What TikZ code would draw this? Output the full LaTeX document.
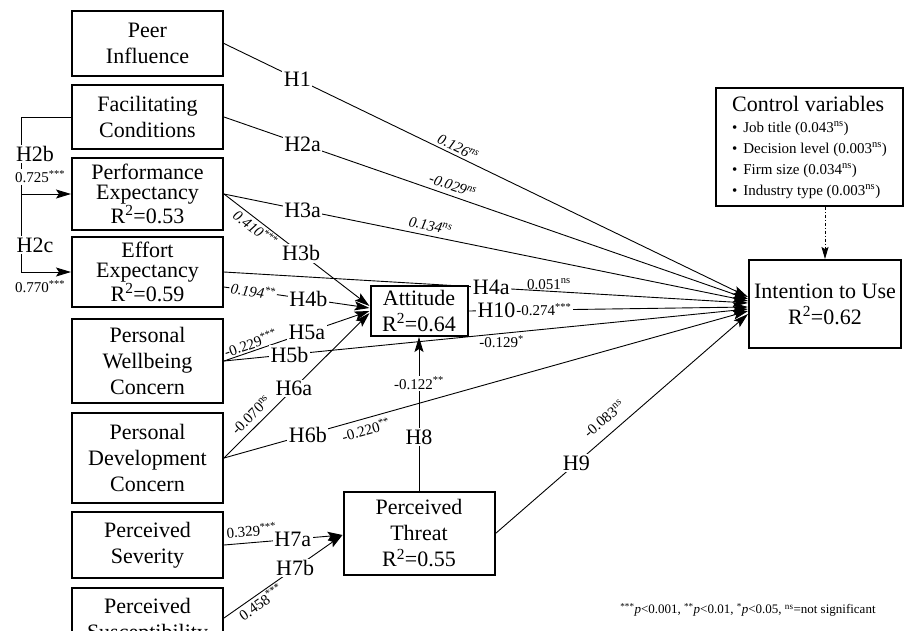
\documentclass[tikz,border=0pt]{standalone}
\usepackage{fontspec}
\setmainfont{Liberation Serif}
\usetikzlibrary{arrows.meta}
\def\boxfont{\fontsize{22}{26}\selectfont}
\def\tightfont{\fontsize{22}{20}\selectfont}
\def\coeffont{\fontsize{15}{17}\selectfont}
\def\ctrlfont{\fontsize{15}{21}\selectfont}
\def\rsq#1{R\textsuperscript{2}=#1}
\tikzset{
  var/.style={draw, line width=2pt, align=center, inner sep=0pt, minimum width=151pt, font=\boxfont},
  hyp/.style={fill=white, inner sep=1.5pt, font=\boxfont},
  coef/.style={inner sep=1.5pt, font=\coeffont},
  link/.style={line width=0.9pt},
  arr/.style={link, -{Stealth[length=15pt,width=9pt,inset=3pt]}},
}
\begin{document}
\begin{tikzpicture}[x=1pt,y=-1pt]
\useasboundingbox (0,0) rectangle (912,630);
\clip (0,0) rectangle (912,630);
\node[var, minimum height=65pt] (peer) at (147.5,43.5) {Peer\\Influence};
\node[var, minimum height=64pt] (fac) at (147.5,117) {Facilitating\\Conditions};
\node[var, minimum height=72pt, font=\tightfont] (perf) at (147.5,194) {Performance\\Expectancy\\\rsq{0.53}};
\node[var, minimum height=70pt, font=\tightfont] (eff) at (147.5,272) {Effort\\Expectancy\\\rsq{0.59}};
\node[var, minimum height=84pt] (wel) at (147.5,361) {Personal\\Wellbeing\\Concern};
\node[var, minimum height=90pt] (dev) at (147.5,458) {Personal\\Development\\Concern};
\node[var, minimum height=66pt] (sev) at (147.5,545) {Perceived\\Severity};
\node[var, minimum height=66pt] (sus) at (147.5,621) {Perceived\\Susceptibility};
\node[var, minimum width=97pt, minimum height=50pt] (att) at (419,311) {Attitude\\\rsq{0.64}};
\node[var, minimum height=83pt] (thr) at (419,533.5) {Perceived\\Threat\\\rsq{0.55}};
\node[var, minimum width=152pt, minimum height=88pt] (int) at (825,304) {Intention to Use\\\rsq{0.62}};
\node[var, minimum width=187pt, minimum height=118pt, align=left, font=\ctrlfont] (ctrl) at (809.5,147)
  {{\boxfont Control variables}\\
   \textbullet\hspace{6pt}Job title (0.043\textsuperscript{ns})\\
   \textbullet\hspace{6pt}Decision level (0.003\textsuperscript{ns})\\
   \textbullet\hspace{6pt}Firm size (0.034\textsuperscript{ns})\\
   \textbullet\hspace{6pt}Industry type (0.003\textsuperscript{ns})};

\draw[arr] (perf.east) -- node[hyp,pos=.53]{H3b} node[coef,pos=.25,below,sloped]{\textit{0.410\textsuperscript{***}}} ([yshift=5pt]att.west);
\draw[arr] ([yshift=-15pt]eff.east) -- node[coef,fill=white,pos=.2,sloped]{\textit{0.194\textsuperscript{**}}} node[hyp,pos=.58]{H4b} ([yshift=3pt]att.west);
\draw[arr] (wel.east) -- node[hyp,pos=.57]{H5a} node[coef,pos=.2,above,sloped]{-0.229\textsuperscript{***}} (att.west);
\draw[arr] (dev.east) -- node[hyp,pos=.48]{H6a} node[coef,pos=.24,above=4pt,sloped]{-0.070\textsuperscript{ns}} ([yshift=-2pt]att.west);

\draw[arr] (peer.east) -- node[hyp,pos=.14]{H1} node[coef,pos=.44,above=1pt,sloped]{\textit{0.126\textsuperscript{ns}}} ([yshift=7pt]int.west);
\draw[arr] (fac.east) -- node[hyp,pos=.15]{H2a} node[coef,pos=.43,above=3pt,sloped]{\textit{-0.029\textsuperscript{ns}}} ([yshift=5pt]int.west);
\draw[arr] (perf.east) -- node[hyp,pos=.15]{H3a} node[coef,pos=.39,above=3pt,sloped]{\textit{0.134\textsuperscript{ns}}} ([yshift=3pt]int.west);
\draw[arr] (eff.east) -- node[hyp,pos=.51]{H4a} node[coef,pos=.62,above]{0.051\textsuperscript{ns}} ([yshift=1pt]int.west);
\draw[arr] (att.east) -- node[hyp,pos=.1]{H10} node[coef,fill=white,pos=.27]{-0.274\textsuperscript{***}} ([yshift=-3pt]int.west);
\draw[arr] (wel.east) -- node[hyp,pos=.125]{H5b} node[coef,pos=.53,below]{-0.129\textsuperscript{*}} ([yshift=-5pt]int.west);
\draw[arr] (dev.east) -- node[hyp,pos=.16]{H6b} node[coef,pos=.265,below=3pt,sloped]{-0.220\textsuperscript{**}} ([yshift=-7pt]int.west);
\draw[arr] (thr.east) -- node[hyp,pos=.32]{H9} node[coef,pos=.47,above=8pt,sloped]{-0.083\textsuperscript{ns}} ([yshift=-10pt]int.west);

\draw[arr] (sev.east) -- node[hyp,pos=.58]{H7a} node[coef,pos=.24,above=4pt,sloped]{0.329\textsuperscript{***}} ([yshift=-1.5pt]thr.west);
\draw[arr] ([yshift=3pt]sus.east) -- node[hyp,pos=.6]{H7b} node[coef,pos=.27,below,sloped]{0.458\textsuperscript{***}} ([yshift=-1.5pt]thr.west);
\draw[arr] (thr.north) -- node[hyp,pos=.35]{H8} node[coef,fill=white,pos=.7]{-0.122\textsuperscript{**}} (att.south);

\coordinate (h2) at ([xshift=-50pt]fac.west);
\draw[link] (fac.west) -- (h2) -- (h2 |- eff.west);
\draw[arr] (h2 |- perf.west) -- (perf.west);
\draw[arr] (h2 |- eff.west) -- (eff.west);
\node[hyp] (h2b) at (35,154) {H2b};
\node[coef,fill=white] (c2b) at (40,177) {0.725\textsuperscript{***}};
\node[hyp] (h2c) at (35,245) {H2c};
\node[coef] (c2c) at (40,287) {0.770\textsuperscript{***}};

\draw[link, dash dot, -{Stealth[length=12pt,width=7pt,inset=2pt]}] (ctrl.south -| int.north) -- (int.north);

\node[font=\fontsize{13}{15}\selectfont] (note) at (748,610)
  {\textsuperscript{***}\textit{p}<0.001, \textsuperscript{**}\textit{p}<0.01, \textsuperscript{*}\textit{p}<0.05, \textsuperscript{ns}=not significant};
\end{tikzpicture}
\end{document}
